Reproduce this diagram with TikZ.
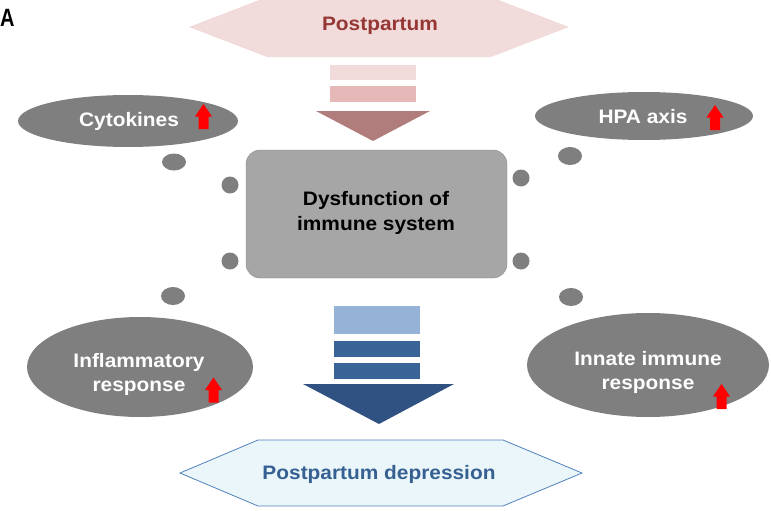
\documentclass[tikz,border=0pt]{standalone}
\usepackage{fontspec}
\setmainfont[FakeStretch=1.07]{Liberation Sans}
\newfontfamily\panelfont[FakeStretch=0.8]{Liberation Sans}
\usetikzlibrary{shapes.geometric}

\definecolor{bubblegrey}{HTML}{7F7F7F}
\definecolor{boxgrey}{HTML}{A6A6A6}
\definecolor{boxline}{HTML}{8C8C8C}
\definecolor{pinklight}{HTML}{F2DCDB}
\definecolor{pinkmid}{HTML}{E6B9B8}
\definecolor{rosedark}{HTML}{B07C7C}
\definecolor{postred}{HTML}{953735}
\definecolor{bluelight}{HTML}{95B3D7}
\definecolor{bluemid}{HTML}{3B6496}
\definecolor{bluedark}{HTML}{2F5283}
\definecolor{depblue}{HTML}{376092}
\definecolor{hexfill}{HTML}{EAF6FA}
\definecolor{hexline}{HTML}{4F81BD}

\tikzset{
  bubble/.style={ellipse,fill=bubblegrey,inner sep=0pt},
  blob/.style={ellipse,fill=bubblegrey,inner sep=0pt},
  whitetxt/.style={text=white,align=center,inner sep=0pt,font=\fontsize{19.5}{24}\selectfont\bfseries},
  uparrow/.pic={\fill[red] (-5,12.5) -- (5,12.5) -- (5,0) -- (8.5,0) -- (0,-12.5) -- (-8.5,0) -- (-5,0) -- cycle;}
}

\begin{document}
\begin{tikzpicture}[x=1pt,y=-1pt]
\useasboundingbox (0,0) rectangle (771,511);
\node[anchor=base west,inner sep=0pt,font=\panelfont\fontsize{25}{25}\selectfont\bfseries] (panel) at (0,27) {A};

% top: postpartum
\fill[pinklight,draw=pinkmid!60] (190,27) -- (268,-3) -- (490,-3) -- (568,27) -- (490,57) -- (268,57) -- cycle;
\node[text=postred,inner sep=0pt,font=\fontsize{19.5}{24}\selectfont\bfseries] (post) at (380,26) {Postpartum};
\fill[pinklight] (330,65) rectangle (416,80);
\fill[pinkmid] (330,86) rectangle (416,102);
\fill[rosedark] (316,111) -- (430,111) -- (373,141) -- cycle;

% side bubbles
\node[bubble,minimum width=220,minimum height=52] (cyto) at (128,121) {};
\node[whitetxt] (cytotxt) at (129,121) {Cytokines};
\pic (cytoup) at (203.5,116.5) {uparrow};
\node[bubble,minimum width=218,minimum height=48] (hpa) at (644,116) {};
\node[whitetxt] (hpatxt) at (643,117) {HPA axis};
\pic (hpaup) at (715,117.5) {uparrow};
\node[bubble,minimum width=226,minimum height=100] (infl) at (140,367) {};
\node[whitetxt] (infltxt) at (139,374) {Inflammatory\\response};
\pic (influp) at (213.5,390) {uparrow};
\node[bubble,minimum width=242,minimum height=104] (innate) at (648,365) {};
\node[whitetxt] (innatetxt) at (648,372) {Innate immune\\response};
\pic (innateup) at (721.5,396.5) {uparrow};

% dots
\node[blob,minimum width=24,minimum height=17] (dotA) at (174,162) {};
\node[blob,minimum width=17,minimum height=17] (dotB) at (230,185) {};
\node[blob,minimum width=17,minimum height=17] (dotC) at (230,261) {};
\node[blob,minimum width=24,minimum height=18] (dotD) at (173,296) {};
\node[blob,minimum width=24,minimum height=18] (dotE) at (570,156) {};
\node[blob,minimum width=17,minimum height=17] (dotF) at (521,178) {};
\node[blob,minimum width=17,minimum height=17] (dotG) at (521,261) {};
\node[blob,minimum width=24,minimum height=18] (dotH) at (571,297) {};

% centre box
\draw[fill=boxgrey,draw=boxline,rounded corners=14] (246,150) rectangle (507,278);
\node[align=center,inner sep=0pt,font=\fontsize{19.5}{25}\selectfont\bfseries] (dys) at (376,213) {Dysfunction of\\immune system};

% bottom: depression
\fill[bluelight] (334,306) rectangle (420,334);
\fill[bluemid] (334,341) rectangle (420,357);
\fill[bluemid] (334,363) rectangle (420,379);
\fill[bluedark] (303,384) -- (454,384) -- (379,424) -- cycle;
\draw[fill=hexfill,draw=hexline,line width=0.8pt] (180,473) -- (258,440) -- (503,440) -- (582,473) -- (503,506) -- (258,506) -- cycle;
\node[text=depblue,inner sep=0pt,font=\fontsize{19.5}{24}\selectfont\bfseries] (ppd) at (379,474) {Postpartum depression};
\end{tikzpicture}
\end{document}
